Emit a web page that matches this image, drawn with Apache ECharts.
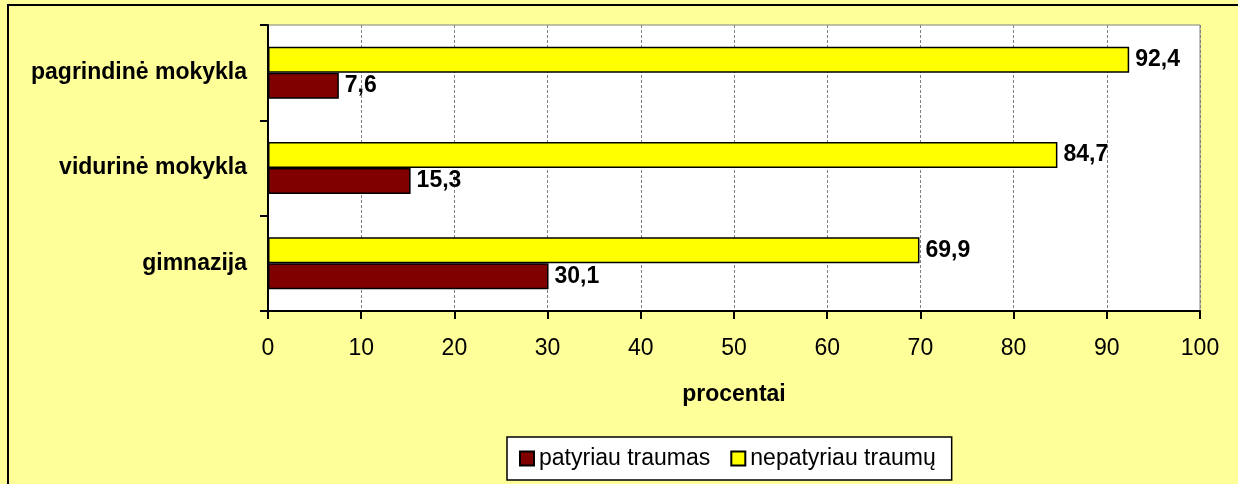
<!DOCTYPE html>
<html lang="lt">
<head>
    <meta charset="UTF-8">
    <title>procentai</title>
    <script src="https://cdn.jsdelivr.net/npm/echarts@6/dist/echarts.min.js"></script>
    <style>
        html, body { margin: 0; padding: 0; background: #FFFF99; overflow: hidden; }
        #main { position: absolute; left: 0; top: 0; width: 1238px; height: 484px; }
        #frame { position: absolute; left: 7px; top: 4px; width: 1400px; height: 700px;
                 border-left: 2px solid #000; border-top: 2px solid #000; pointer-events: none; }
    </style>
</head>
<body>
<div id="main"></div>
<div id="frame"></div>
<script type="text/javascript">
    // kategorijos (iš apačios į viršų)
    var categories = ['gimnazija', 'vidurinė mokykla', 'pagrindinė mokykla'];
    var patyriau = [30.1, 15.3, 7.6];
    var nepatyriau = [69.9, 84.7, 92.4];
    var xTicks = [0, 10, 20, 30, 40, 50, 60, 70, 80, 90, 100];

    var font = 'Liberation Sans, Arial, sans-serif';
    var myChart = echarts.init(document.getElementById('main'));

    function kablelis(p) {
        return String(p.value).replace('.', ',');
    }

    var option = {
        backgroundColor: '#FFFF99',
        animation: false,
        textStyle: { fontFamily: font },
        grid: {
            left: 268, right: 38, top: 25, bottom: 173,
            show: true, backgroundColor: '#FFFFFF',
            borderColor: '#808080', borderWidth: 1
        },
        legend: {
            data: ['patyriau traumas', 'nepatyriau traumų'],
            icon: 'rect',
            left: 507, top: 437,
            padding: [10, 16, 10, 12],
            itemGap: 20,
            itemWidth: 14, itemHeight: 14,
            backgroundColor: '#FFFFFF',
            borderColor: '#000000', borderWidth: 1.5,
            textStyle: { fontSize: 23, color: '#000', fontFamily: font }
        },
        xAxis: {
            type: 'value',
            min: xTicks[0], max: xTicks[xTicks.length - 1], interval: 10,
            name: 'procentai',
            nameLocation: 'middle',
            nameGap: 72,
            nameTextStyle: { fontSize: 23, fontWeight: 'bold', color: '#000', fontFamily: font },
            axisLine: { show: true, lineStyle: { color: '#000', width: 2 } },
            axisTick: { show: true, length: 8, lineStyle: { color: '#000', width: 2 } },
            axisLabel: { fontSize: 23, color: '#000', margin: 26, fontFamily: font },
            splitLine: { show: true, lineStyle: { color: '#808080', type: [3, 2], width: 1 } }
        },
        yAxis: {
            type: 'category',
            data: categories,
            axisLine: { show: true, lineStyle: { color: '#000', width: 2 } },
            axisTick: { show: true, length: 8, lineStyle: { color: '#000', width: 2 } },
            axisLabel: { fontSize: 23, fontWeight: 'bold', color: '#000', margin: 21, fontFamily: font },
            splitLine: { show: false }
        },
        series: [
            {
                name: 'nepatyriau traumų',
                type: 'bar',
                data: nepatyriau,
                barWidth: 26,
                barGap: '0%',
                itemStyle: { color: '#FFFF00', borderColor: '#000', borderWidth: 1.5 },
                label: {
                    show: true, position: 'right', distance: 6, formatter: kablelis,
                    fontSize: 23, fontWeight: 'bold', color: '#000', fontFamily: font
                }
            },
            {
                name: 'patyriau traumas',
                type: 'bar',
                data: patyriau,
                barWidth: 26,
                barGap: '0%',
                itemStyle: { color: '#800000', borderColor: '#000', borderWidth: 1.5 },
                label: {
                    show: true, position: 'right', distance: 6, formatter: kablelis,
                    fontSize: 23, fontWeight: 'bold', color: '#000', fontFamily: font
                }
            }
        ]
    };
    myChart.setOption(option);
</script>
</body>
</html>
